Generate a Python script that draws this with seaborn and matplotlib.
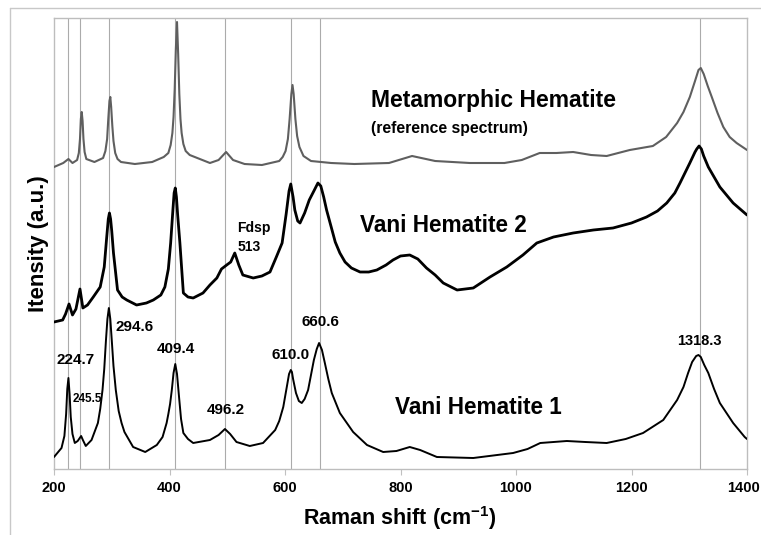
import numpy as np
import pandas as pd
import matplotlib
matplotlib.use("Agg")
import matplotlib.pyplot as plt
from matplotlib.lines import Line2D
from matplotlib.transforms import ScaledTranslation
import seaborn as sns

# Raman spectra (x in cm-1, intensity in arbitrary units)
meta_x = [200, 216, 225, 232, 240, 243, 245, 246.5, 248, 249.5, 251, 253, 256, 270, 285,
          289, 292, 294, 296, 297.5, 299, 301, 303, 306, 310, 316, 340, 370, 390, 398, 402,
          405, 407, 409, 411, 413, 415, 417, 419, 421, 424, 428, 435, 470, 485, 498, 510,
          530, 560, 590, 596, 601, 605, 608, 611, 613, 615, 618, 621, 625, 632, 645, 680,
          720, 780, 820, 860, 920, 980, 1010, 1041, 1070, 1099, 1130, 1157, 1197, 1237,
          1260, 1279, 1290, 1301, 1310, 1316, 1320, 1325, 1332, 1339, 1349, 1359, 1370,
          1382, 1400]
meta_y = [302, 306, 310, 306, 309, 316, 330, 350, 357, 348, 330, 317, 310, 307, 311,
          318, 330, 350, 368, 372, 362, 343, 328, 316, 310, 307, 305, 307, 312, 316, 324,
          336, 352, 380, 420, 447, 415, 375, 350, 336, 325, 318, 314, 306, 309, 317, 309,
          305, 304, 308, 312, 318, 330, 350, 375, 384, 375, 350, 333, 322, 313, 308, 306,
          305, 306, 313, 308, 306, 306, 309, 316, 316, 317, 314, 313, 319, 323,
          332, 346, 357, 372, 388, 399, 401, 395, 383, 372, 356, 342, 332,
          326, 319]

vani2_x = [200, 215, 220, 226, 232, 238, 245, 250, 258, 268, 280, 287, 291, 294, 296, 298,
           300, 303, 310, 318, 326, 343, 360, 372, 385, 392, 398, 402, 406, 408, 410, 412,
           414, 418, 424, 432, 441, 458, 470, 482, 490, 499, 506, 513, 520, 527, 545, 560,
           574, 585, 595, 602, 607, 610, 614, 617, 622, 626, 634, 642, 650, 657, 662, 667,
           672, 680, 687, 695, 704, 715, 730, 745, 759, 775, 787, 800, 816, 830, 845, 860,
           874, 898, 926, 955, 984, 1012, 1036, 1065, 1099, 1134, 1168, 1200, 1226, 1245,
           1261, 1275, 1284, 1301, 1310, 1313, 1317, 1321, 1325, 1333, 1353, 1376, 1390, 1400]
vani2_y = [147, 149, 155, 165, 154, 160, 180, 161, 164, 172, 182, 202, 230, 250, 256, 250,
           238, 216, 179, 172, 169, 164, 166, 169, 174, 182, 200, 226, 260, 276, 281, 272,
           255, 226, 176, 172, 171, 176, 184, 191, 200, 204, 207, 216, 204, 194, 191, 193,
           197, 212, 226, 255, 278, 285, 272, 259, 248, 246, 256, 269, 278, 286, 283, 272,
           259, 242, 227, 216, 207, 201, 197, 197, 199, 204, 209, 213, 214, 210, 201, 194,
           186, 179, 181, 192, 202, 214, 226, 232, 236, 239, 241, 246, 252, 258,
           266, 276, 286, 306, 317, 320, 323, 320, 313, 302, 282, 266, 259, 254]

vani1_x = [200, 213, 218, 221, 223, 225, 227, 229, 232, 236, 241, 247, 250, 255, 265, 276,
           280, 284, 287, 290, 292.5, 295, 297.5, 300, 303, 307, 312, 317, 322, 327, 337, 358,
           378, 388, 395, 398, 401, 404, 407, 410, 413, 417, 420, 424, 432, 441, 470, 485,
           496, 505, 516, 539, 562, 583, 590, 597, 604, 607, 610, 612, 614, 619, 624, 629,
           634, 640, 650, 655, 659, 664, 669, 675, 681, 695, 718, 742, 770, 793, 816, 834,
           863, 926, 995, 1020, 1042, 1088, 1120, 1157, 1190, 1220, 1255, 1279, 1290, 1298,
           1305, 1312, 1316, 1320, 1326, 1333, 1343, 1353, 1376, 1396, 1400]
vani1_y = [12, 21, 33, 55, 80, 91, 75, 52, 35, 26, 28, 33, 29, 23, 29, 46,
           60, 79, 100, 129, 150, 161, 150, 129, 103, 79, 58, 46, 37, 32, 22, 17,
           24, 32, 46, 55, 65, 79, 96, 105, 95, 69, 50, 36, 30, 26, 29, 34,
           40, 35, 27, 23, 26, 39, 48, 62, 85, 95, 99, 97, 90, 76, 68, 66,
           70, 79, 109, 120, 126, 119, 106, 90, 76, 56, 37, 24, 17, 18, 22, 19,
           12, 11, 16, 20, 26, 28, 27, 26, 30, 36, 49, 69, 82, 96,
           107, 113, 114, 112, 104, 96, 80, 66, 46, 32, 30]

peaks = [224.7, 245.5, 294.6, 409.4, 496.2, 610.0, 660.6, 1318.3]
# label anchor (x, y) for each peak label on the Vani Hematite 1 spectrum
label_x = [238, 257, 339, 411, 498, 610, 661, 1317]
label_y = [109, 70, 142, 120, 59, 114, 147, 128]
label_size = [11, 8.5, 11, 11, 11, 11, 11, 10.5]

xticks = [200, 400, 600, 800, 1000, 1200, 1400]

sns.set_style("white")
plt.rcParams["font.family"] = ["Liberation Sans", "DejaVu Sans"]
plt.rcParams["font.weight"] = "bold"
plt.rcParams["text.color"] = "black"
plt.rcParams["axes.labelcolor"] = "black"
plt.rcParams["xtick.labelcolor"] = "black"
plt.rcParams["mathtext.fontset"] = "custom"
plt.rcParams["mathtext.rm"] = "Liberation Sans:bold"
plt.rcParams["mathtext.bf"] = "Liberation Sans:bold"
plt.rcParams["mathtext.default"] = "bf"

fig = plt.figure(figsize=(7.61, 5.35), dpi=100)
ax = fig.add_axes([54 / 761, 1 - 469 / 535, 693 / 761, 451 / 535])

# chart-area frame (Excel style)
fig.add_artist(Line2D([10 / 761, 10 / 761], [0, 1 - 8 / 535], color="#c8c8c8", lw=1))
fig.add_artist(Line2D([10 / 761, 1], [1 - 8 / 535, 1 - 8 / 535], color="#c8c8c8", lw=1))

for p in peaks:
    ax.axvline(p, color="#ababab", lw=0.8, zorder=1)

sns.lineplot(x=meta_x, y=meta_y, color="#5f5f5f", linewidth=1.5, ax=ax, zorder=3)
sns.lineplot(x=vani2_x, y=vani2_y, color="black", linewidth=2.0, ax=ax, zorder=3)
sns.lineplot(x=vani1_x, y=vani1_y, color="black", linewidth=1.4, ax=ax, zorder=3)

for p, lx, ly, fs in zip(peaks, label_x, label_y, label_size):
    ax.text(lx, ly, f"{p:.1f}", ha="center", va="center", fontsize=fs, fontweight="bold")

ax.text(749, 369, "Metamorphic Hematite", ha="left", va="center", fontsize=16.5, fontweight="bold")
ax.text(749, 341, "(reference spectrum)", ha="left", va="center", fontsize=11.3, fontweight="bold")
ax.text(730, 243, "Vani Hematite 2", ha="left", va="center", fontsize=16.3, fontweight="bold")
ax.text(790, 61, "Vani Hematite 1", ha="left", va="center", fontsize=16.3, fontweight="bold")
ax.text(517, 241, "Fdsp", ha="left", va="center", fontsize=10, fontweight="bold")
ax.text(517, 222, "513", ha="left", va="center", fontsize=10, fontweight="bold")

ax.set_xlim(200, 1400)
ax.set_ylim(0, 451)
ax.set_xticks(xticks)
ax.set_xticklabels([str(t) for t in xticks], fontsize=10.5, fontweight="bold")
ax.set_yticks([])
ax.tick_params(axis="x", direction="out", length=4, color="#c0c0c0", pad=5, bottom=True)
for s in ax.spines.values():
    s.set_color("#bdbdbd")
    s.set_linewidth(1)

# keep the last tick label inside the figure edge
last = ax.get_xticklabels()[-1]
last.set_transform(last.get_transform() + ScaledTranslation(-4 / 100, 0, fig.dpi_scale_trans))

ax.set_xlabel("Raman shift (cm$^{-1}$)", fontsize=15.5, fontweight="bold", va="center")
ax.xaxis.set_label_coords(0.4993, -0.109)
ax.set_ylabel("Itensity (a.u.)", fontsize=16, fontweight="bold", va="center")
ax.yaxis.set_label_coords(-0.022, 0.50)

fig.savefig("out.png", dpi=100)
